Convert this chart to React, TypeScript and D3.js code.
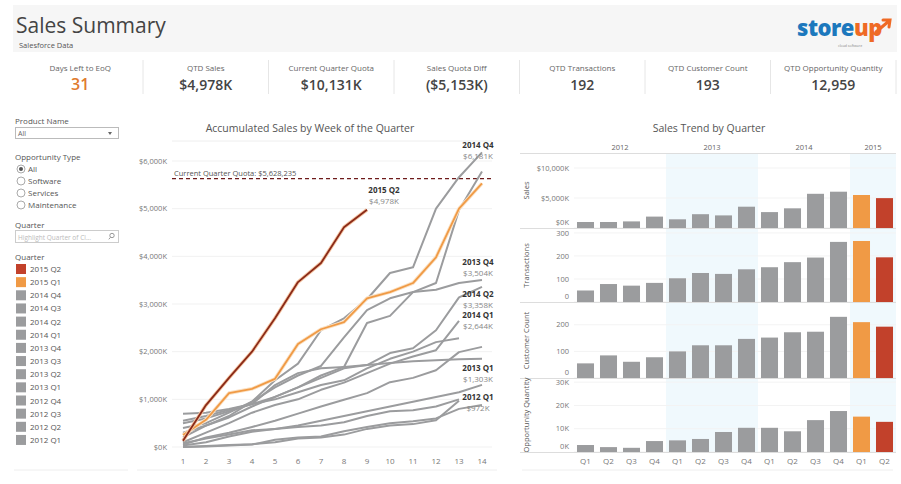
import React from 'react';
import * as d3 from 'd3';

const FONT = "'Open Sans', 'Noto Sans', sans-serif";

// ---------- KPI ----------
const kpiLabels = ['Days Left to EoQ', 'QTD Sales', 'Current Quarter Quota', 'Sales Quota Diff', 'QTD Transactions', 'QTD Customer Count', 'QTD Opportunity Quantity'];
const kpiValues = ['31', '$4,978K', '$10,131K', '($5,153K)', '192', '193', '12,959'];

// ---------- Filters ----------
const opportunityTypes = ['All', 'Software', 'Services', 'Maintenance'];
const legendQuarters = ['2015 Q2', '2015 Q1', '2014 Q4', '2014 Q3', '2014 Q2', '2014 Q1', '2013 Q4', '2013 Q3', '2013 Q2', '2013 Q1', '2012 Q4', '2012 Q3', '2012 Q2', '2012 Q1'];

// ---------- Accumulated sales by week ($K) ----------
const weekTicks = [1, 2, 3, 4, 5, 6, 7, 8, 9, 10, 11, 12, 13, 14];
const salesTicksK = [0, 1000, 2000, 3000, 4000, 5000, 6000];
const quotaK = 5628.235;
const acc2012Q1 = [0, 20, 40, 60, 100, 180, 200, 260, 380, 450, 480, 560, 972];
const acc2012Q2 = [80, 180, 260, 350, 380, 420, 450, 520, 650, 750, 770, 850, 1000];
const acc2012Q3 = [0, 10, 30, 50, 150, 200, 220, 330, 420, 500, 540, 600, 800, 880];
const acc2012Q4 = [700, 720, 800, 900, 1300, 1550, 1650, 1680, 1720, 1760, 1800, 1820, 1840, 1850];
const acc2013Q1 = [30, 100, 220, 320, 380, 450, 550, 650, 750, 850, 950, 1050, 1150, 1303];
const acc2013Q2 = [50, 200, 300, 420, 550, 700, 850, 990, 1130, 1360, 1450, 1610, 1990, 2100];
const acc2013Q3 = [550, 650, 780, 900, 1000, 1150, 1300, 1400, 1650, 1850, 2000, 2200, 2280];
const acc2013Q4 = [500, 600, 750, 900, 1050, 1250, 1500, 1680, 2600, 2750, 3250, 3300, 3440, 3504];
const acc2014Q1 = [100, 300, 500, 720, 880, 1000, 1200, 1350, 1550, 1750, 1900, 2030, 2644];
const acc2014Q2 = [200, 450, 620, 850, 1050, 1250, 1450, 1650, 1720, 1970, 2070, 2450, 3140, 3358];
const acc2014Q3 = [400, 500, 720, 950, 1250, 1500, 1700, 2300, 2870, 3120, 3250, 3440, 4970, 5780];
const acc2014Q4 = [300, 450, 650, 950, 1400, 1750, 2450, 2700, 3100, 3650, 3770, 5000, 5660, 6181];
const acc2015Q1 = [250, 570, 1130, 1220, 1430, 2160, 2470, 2620, 3120, 3250, 3440, 3980, 5000, 5530];
const acc2015Q2 = [130, 880, 1450, 2000, 2700, 3460, 3860, 4610, 4978];

const accSeries = [
  { q: '2012 Q1', v: acc2012Q1 }, { q: '2012 Q2', v: acc2012Q2 }, { q: '2012 Q3', v: acc2012Q3 }, { q: '2012 Q4', v: acc2012Q4 },
  { q: '2013 Q1', v: acc2013Q1 }, { q: '2013 Q2', v: acc2013Q2 }, { q: '2013 Q3', v: acc2013Q3 }, { q: '2013 Q4', v: acc2013Q4 },
  { q: '2014 Q1', v: acc2014Q1 }, { q: '2014 Q2', v: acc2014Q2 }, { q: '2014 Q3', v: acc2014Q3 }, { q: '2014 Q4', v: acc2014Q4 },
  { q: '2015 Q1', v: acc2015Q1 }, { q: '2015 Q2', v: acc2015Q2 },
];

// annotated end labels: quarter, offsets from the line end
const annotQuarters = ['2014 Q4', '2015 Q2', '2013 Q4', '2014 Q2', '2014 Q1', '2013 Q1', '2012 Q1'];
const annotDx = [-4, 17, -4, -4, 19, -4, 19];
const annotDy = [-4, -17, -15, 10, -3, -14, -1];

// ---------- Sales trend by quarter ----------
const trendYears = ['2012', '2013', '2014', '2015'];
const trendYearCounts = [4, 4, 4, 2];
const trendQuarterLabels = ['Q1', 'Q2', 'Q3', 'Q4', 'Q1', 'Q2', 'Q3', 'Q4', 'Q1', 'Q2', 'Q3', 'Q4', 'Q1', 'Q2'];
const trendQuarterKeys = ['2012 Q1', '2012 Q2', '2012 Q3', '2012 Q4', '2013 Q1', '2013 Q2', '2013 Q3', '2013 Q4', '2014 Q1', '2014 Q2', '2014 Q3', '2014 Q4', '2015 Q1', '2015 Q2'];
const qtrSalesK = [1000, 1000, 1100, 1900, 1450, 2300, 2100, 3550, 2650, 3280, 5700, 6050, 5500, 4978];
const qtrTransactions = [50, 78, 71, 83, 103, 126, 122, 142, 151, 173, 193, 261, 265, 194];
const qtrCustomers = [55, 85, 61, 78, 100, 123, 123, 147, 152, 172, 174, 230, 210, 193];
const qtrOpportunityK = [3.0, 2.1, 1.8, 4.7, 5.0, 5.6, 8.6, 10.4, 10.4, 8.9, 13.7, 17.6, 15.2, 12.959];

const GRAY = '#9b9c9e';
const ORANGE = '#f09a45';
const RED = '#c2412b';
const qColor = (q: string) => (q === '2015 Q2' ? RED : q === '2015 Q1' ? ORANGE : GRAY);

export default function App() {
  const W = 901, H = 484;

  // line chart scales
  const lx = d3.scaleLinear().domain([1, 14]).range([183, 482]);
  const ly = d3.scaleLinear().domain([0, 6000]).range([447, 161]);
  const lineGen = d3.line<number>().x((_, i) => lx(i + 1)).y((d) => ly(d));

  // trend scales
  const colScale = d3.scaleLinear().domain([0, 14]).range([574, 896]);
  const bx = d3.scaleBand<number>().domain(d3.range(14)).range([574, 896]).paddingInner(0.26).paddingOuter(0.13);
  const fmtK = (v: number) => `$${d3.format(',')(v)}K`;
  const rows = [
    { title: 'Sales', values: qtrSalesK, y: d3.scaleLinear().domain([0, 12500]).range([228, 153]), ticks: [0, 5000, 10000], fmt: fmtK },
    { title: 'Transactions', values: qtrTransactions, y: d3.scaleLinear().domain([0, 317]).range([302, 229]), ticks: [0, 100, 200, 300], fmt: (v: number) => String(v) },
    { title: 'Customer Count', values: qtrCustomers, y: d3.scaleLinear().domain([0, 282]).range([378, 303]), ticks: [0, 100, 200], fmt: (v: number) => String(v) },
    { title: 'Opportunity Quantity', values: qtrOpportunityK, y: d3.scaleLinear().domain([0, 31.8]).range([452, 378]), ticks: [0, 10, 20, 30], fmt: (v: number) => `${v}K` },
  ];

  const yearStarts = trendYearCounts.map((_, i) => d3.sum(trendYearCounts.slice(0, i)));

  const kpiStep = 125.5;
  const kpiX0 = 17.5;

  return (
    <svg width={W} height={H} style={{ position: 'absolute', left: 0, top: 0, background: '#fff' }} fontFamily={FONT}>
      {/* Header */}
      <rect x={13} y={5} width={884} height={47} fill="#f6f6f6" />
      <text x={16} y={33} fontSize={21} fill="#444">Sales Summary</text>
      <text x={19} y={48} fontSize={7.5} fill="#555">Salesforce Data</text>
      {/* logo */}
      <text x={797} y={36} fontSize={22} fontWeight={800} fill="#1c78bd" letterSpacing={-0.5}>
        store<tspan fill="#ef6a25">up</tspan>
      </text>
      <path d="M876,32 L889,21 M883,20 L890,20 L889,27" stroke="#ef6a25" strokeWidth={3} fill="none" strokeLinecap="round" />
      <text x={838} y={47} fontSize={3.5} fill="#888">cloud software</text>

      {/* KPIs */}
      {kpiLabels.map((lab, i) => {
        const cx = kpiX0 + kpiStep * (i + 0.5);
        return (
          <g key={lab}>
            <text x={cx} y={71} fontSize={8} fill="#666" textAnchor="middle">{lab}</text>
            <text x={cx} y={90} fontSize={i === 0 ? 16 : 14} fontWeight={600} fill={i === 0 ? '#e07b2f' : '#444'} textAnchor="middle">{kpiValues[i]}</text>
            <line x1={kpiX0 + kpiStep * (i + 1)} x2={kpiX0 + kpiStep * (i + 1)} y1={60} y2={94} stroke="#e6e6e6" />
          </g>
        );
      })}

      {/* Left filters */}
      <text x={15} y={124} fontSize={8} fill="#555">Product Name</text>
      <rect x={15.5} y={127.5} width={103} height={11} fill="#fff" stroke="#bbb" />
      <text x={18} y={136} fontSize={7} fill="#666">All</text>
      <path d="M108,132 L112,132 L110,135 Z" fill="#666" />
      <text x={15} y={160} fontSize={8} fill="#555">Opportunity Type</text>
      {opportunityTypes.map((t, i) => (
        <g key={t}>
          <circle cx={21} cy={169 + i * 12} r={4} fill="#fff" stroke="#aaa" />
          {i === 0 && <circle cx={21} cy={169} r={2} fill="#555" />}
          <text x={28} y={172 + i * 12} fontSize={8} fill="#555">{t}</text>
        </g>
      ))}
      <text x={15} y={228} fontSize={8} fill="#555">Quarter</text>
      <rect x={15.5} y={230.5} width={103} height={12} fill="#fff" stroke="#ccc" />
      <text x={18} y={239.5} fontSize={6.5} fill="#bbb">Highlight Quarter of Cl...</text>
      <circle cx={112} cy={235.5} r={2.2} fill="none" stroke="#999" />
      <line x1={110.5} y1={237.3} x2={108.8} y2={239.3} stroke="#999" />
      <text x={15} y={260} fontSize={8} fill="#555">Quarter</text>
      {legendQuarters.map((q, i) => {
        const cy = 269 + i * 13.15;
        return (
          <g key={q}>
            <rect x={16} y={cy - 5} width={10} height={10} fill={qColor(q)} />
            <text x={30} y={cy + 3} fontSize={8} fill="#555">{q}</text>
          </g>
        );
      })}
      <line x1={14} x2={128} y1={470} y2={470} stroke="#eee" />

      {/* Line chart */}
      <text x={310} y={132} fontSize={10.5} fill="#555" textAnchor="middle">Accumulated Sales by Week of the Quarter</text>
      <line x1={172} x2={492} y1={141} y2={141} stroke="#eee" />
      {salesTicksK.map((t) => (
        <g key={t}>
          <line x1={172} x2={492} y1={ly(t)} y2={ly(t)} stroke="#f1f1f1" />
          <text x={167} y={ly(t)} dy="0.35em" fontSize={7.5} fill="#777" textAnchor="end">{fmtK(t)}</text>
        </g>
      ))}
      {weekTicks.map((w) => (
        <text key={w} x={lx(w)} y={464} fontSize={8} fill="#777" textAnchor="middle">{w}</text>
      ))}
      <line x1={172} x2={492} y1={ly(quotaK)} y2={ly(quotaK)} stroke="#6e1b1b" strokeWidth={1.2} strokeDasharray="4,3" />
      <text x={174} y={ly(quotaK) - 3} fontSize={7.5} fill="#555">{`Current Quarter Quota: $${d3.format(',')(Math.round(quotaK * 1000))}`}</text>
      {accSeries.filter((s) => qColor(s.q) === GRAY).map((s) => (
        <path key={s.q} d={lineGen(s.v) || ''} fill="none" stroke={GRAY} strokeWidth={2} strokeLinejoin="round" />
      ))}
      {accSeries.filter((s) => s.q === '2015 Q1').map((s) => (
        <g key={s.q}>
          <path d={lineGen(s.v) || ''} fill="none" stroke="#fae0c2" strokeWidth={3.6} strokeLinejoin="round" />
          <path d={lineGen(s.v) || ''} fill="none" stroke={ORANGE} strokeWidth={1.8} strokeLinejoin="round" />
        </g>
      ))}
      {accSeries.filter((s) => s.q === '2015 Q2').map((s) => (
        <g key={s.q}>
          <path d={lineGen(s.v) || ''} fill="none" stroke="#f5c6a4" strokeWidth={3.6} strokeLinejoin="round" />
          <path d={lineGen(s.v) || ''} fill="none" stroke="#8a2a18" strokeWidth={1.8} strokeLinejoin="round" />
        </g>
      ))}
      {annotQuarters.map((q, i) => {
        const s = accSeries.find((d) => d.q === q)!;
        const n = s.v.length;
        const ex = lx(n) + annotDx[i];
        const ey = ly(s.v[n - 1]) + annotDy[i];
        return (
          <g key={q}>
            <text x={ex} y={ey} fontSize={8} fontWeight={700} fill="#333" textAnchor="middle">{q}</text>
            <text x={ex} y={ey + 11} fontSize={8} fill="#888" textAnchor="middle">{fmtK(s.v[n - 1])}</text>
          </g>
        );
      })}
      <line x1={137} x2={497} y1={470} y2={470} stroke="#eee" />

      {/* Trend chart */}
      <text x={709} y={132} fontSize={10.5} fill="#555" textAnchor="middle">Sales Trend by Quarter</text>
      {trendYears.map((yr, i) => {
        const x0 = colScale(yearStarts[i]);
        const x1 = colScale(yearStarts[i] + trendYearCounts[i]);
        return (
          <g key={yr}>
            {i % 2 === 1 && <rect x={x0} y={153} width={x1 - x0} height={299} fill="#f0f9fd" />}
            <text x={(x0 + x1) / 2} y={150} fontSize={7.5} fill="#666" textAnchor="middle">{yr}</text>
          </g>
        );
      })}
      <line x1={520} x2={896} y1={153.5} y2={153.5} stroke="#ddd" />
      {rows.map((r) => {
        const base = r.y.range()[0];
        const top = r.y.range()[1];
        return (
          <g key={r.title}>
            {r.ticks.map((t) => (
              <g key={t}>
                <line x1={574} x2={896} y1={r.y(t)} y2={r.y(t)} stroke="#f3f3f3" />
                <text x={569} y={Math.min(r.y(t), base - 5.5)} dy="0.35em" fontSize={7.5} fill="#777" textAnchor="end">{r.fmt(t)}</text>
              </g>
            ))}
            <text transform={`translate(529,${(base + top) / 2}) rotate(-90)`} fontSize={7.5} fill="#555" textAnchor="middle">{r.title}</text>
            {r.values.map((v, i) => (
              <rect key={i} x={bx(i)} y={r.y(v)} width={bx.bandwidth()} height={base - r.y(v)} fill={qColor(trendQuarterKeys[i])} />
            ))}
            <line x1={520} x2={896} y1={base + 0.5} y2={base + 0.5} stroke="#ddd" />
          </g>
        );
      })}
      {trendQuarterLabels.map((q, i) => (
        <text key={i} x={(bx(i) || 0) + bx.bandwidth() / 2} y={464} fontSize={8} fill="#777" textAnchor="middle">{q}</text>
      ))}
      <line x1={522} x2={893} y1={470} y2={470} stroke="#eee" />
    </svg>
  );
}
